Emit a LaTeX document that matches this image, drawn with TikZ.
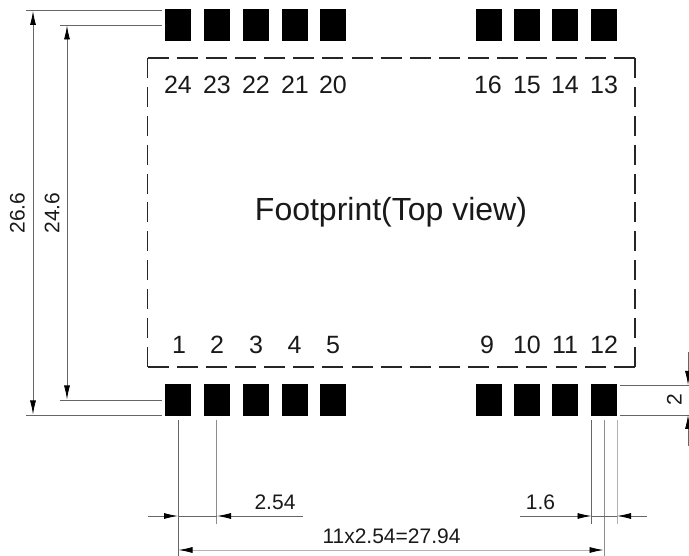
\documentclass[tikz,border=0pt]{standalone}
\usepackage{fontspec}
\setmainfont{Liberation Sans}
\usetikzlibrary{arrows.meta}
\tikzset{
  pad/.style={fill=black,draw=none,minimum width=26pt,minimum height=32pt,inner sep=0pt,outer sep=0pt},
  pinlabel/.style={inner sep=0pt,text height=18pt,text depth=0pt,font=\fontsize{25}{25}\selectfont,text=black!90},
  dimlabel/.style={inner sep=0pt,text height=15pt,text depth=0pt,font=\fontsize{21}{22}\selectfont,text=black!90},
  outline/.style={line width=1.2pt,black!85},
  hdash/.style={outline,dash pattern=on 21pt off 8.15pt},
  vdash/.style={outline,dash pattern=on 20pt off 8.9pt},
  extline/.style={line width=0.8pt,black!60},
  lightline/.style={line width=0.8pt,black!30},
  dimarrow/.style={extline,{Latex[length=14pt,width=6pt,black]}-{Latex[length=14pt,width=6pt,black]}},
  onetip/.style={extline,-{Latex[length=14pt,width=6pt,black]}},
}
\begin{document}
\begin{tikzpicture}[x=1pt,y=-1pt]
\useasboundingbox (0,0) rectangle (689,556);
% pads and pin labels
\foreach \n/\x/\lx/\t in {a/178/178/24,b/217/217/23,c/256/256/22,d/295/295/21,e/333/333/20,f/488.5/488/16,g/527/527/15,h/565/565/14,i/604/604/13}{
  \node[pad] (top\n) at (\x,25.5) {};
  \node[pinlabel] (ltop\n) at (\lx,84.5) {\t};
}
\foreach \n/\x/\lx/\t in {a/178/179/1,b/217/217/2,c/256/256/3,d/295/294.5/4,e/333/333/5,f/488.5/487/9,g/527/527/10,h/565/565/11,i/604/604/12}{
  \node[pad] (bot\n) at (\x,400) {};
  \node[pinlabel] (lbot\n) at (\lx,344.5) {\t};
}
% outline
\coordinate (tl) at (147.5,58);
\coordinate (tr) at (635,58);
\coordinate (bl) at (147.5,367);
\coordinate (br) at (635,367);
\draw[hdash] (tl) -- (tr);
\draw[hdash] (bl) -- (br);
\draw[vdash] (tl) -- (bl);
\draw[vdash] (tr) -- (br);
\node[inner sep=0pt,anchor=base,font=\fontsize{32}{32}\selectfont,text=black!90] (title) at (391,221) {Footprint(Top view)};
% left dimensions
\coordinate (e1a) at (26,10.5);  \coordinate (e1b) at (162,10.5);
\coordinate (e2a) at (60,25);    \coordinate (e2b) at (162,25);
\coordinate (e3a) at (60,400);   \coordinate (e3b) at (162,400);
\coordinate (e4a) at (26,415);   \coordinate (e4b) at (162,415);
\draw[extline] (e1a) -- (e1b);
\draw[extline] (e2a) -- (e2b);
\draw[extline] (e3a) -- (e3b);
\draw[extline] (e4a) -- (e4b);
\coordinate (d1a) at (33,11);  \coordinate (d1b) at (33,414.5);
\coordinate (d2a) at (67,25.5);\coordinate (d2b) at (67,399.5);
\draw[dimarrow] (d1a) -- (d1b);
\draw[dimarrow] (d2a) -- (d2b);
\node[dimlabel,rotate=90] (l266) at (17,213) {26.6};
\node[dimlabel,rotate=90] (l246) at (52,213) {24.6};
% right dimension
\coordinate (r1a) at (620,385); \coordinate (r1b) at (689,385);
\coordinate (r2a) at (620,415); \coordinate (r2b) at (689,415);
\draw[extline] (r1a) -- (r1b);
\draw[extline] (r2a) -- (r2b);
\coordinate (r3a) at (688,352); \coordinate (r3b) at (688,385);
\coordinate (r4a) at (688,446); \coordinate (r4b) at (688,415);
\draw[onetip] (r3a) -- (r3b);
\draw[onetip] (r4a) -- (r4b);
\node[dimlabel,rotate=90] (l2) at (674,400) {2};
% bottom dimensions, left
\coordinate (v1a) at (178,420);   \coordinate (v1b) at (178,556);
\coordinate (v2a) at (216.5,420); \coordinate (v2b) at (216.5,524);
\draw[extline] (v1a) -- (v1b);
\draw[lightline,black!45] (v2a) -- (v2b);
\coordinate (h1a) at (148,516);   \coordinate (h1t) at (178,516);
\coordinate (h1b) at (303,516);   \coordinate (h1u) at (217,516);
\draw[onetip] (h1a) -- (h1t);
\draw[onetip] (h1b) -- (h1u);
\draw[extline] (h1t) -- (h1u);
\node[dimlabel] (l254) at (275,501.5) {2.54};
% bottom dimensions, right
\coordinate (v3a) at (591.5,420); \coordinate (v3b) at (591.5,524);
\coordinate (v4a) at (604,420);   \coordinate (v4b) at (604,556);
\coordinate (v5a) at (617,420);   \coordinate (v5b) at (617,524);
\draw[extline] (v3a) -- (v3b);
\draw[lightline,black!45] (v4a) -- (v4b);
\draw[lightline] (v5a) -- (v5b);
\coordinate (h2a) at (520,516);   \coordinate (h2t) at (591.5,516);
\coordinate (h2b) at (647,516);   \coordinate (h2u) at (617,516);
\draw[onetip] (h2a) -- (h2t);
\draw[onetip] (h2b) -- (h2u);
\draw[extline] (h2t) -- (h2u);
\node[dimlabel] (l16) at (540.5,501.5) {1.6};
% overall pitch
\coordinate (w1) at (178.5,550);  \coordinate (w2) at (603.5,550);
\draw[dimarrow,lightline] (w1) -- (w2);
\node[dimlabel] (lw) at (391.5,535.5) {11x2.54=27.94};
\end{tikzpicture}
\end{document}
